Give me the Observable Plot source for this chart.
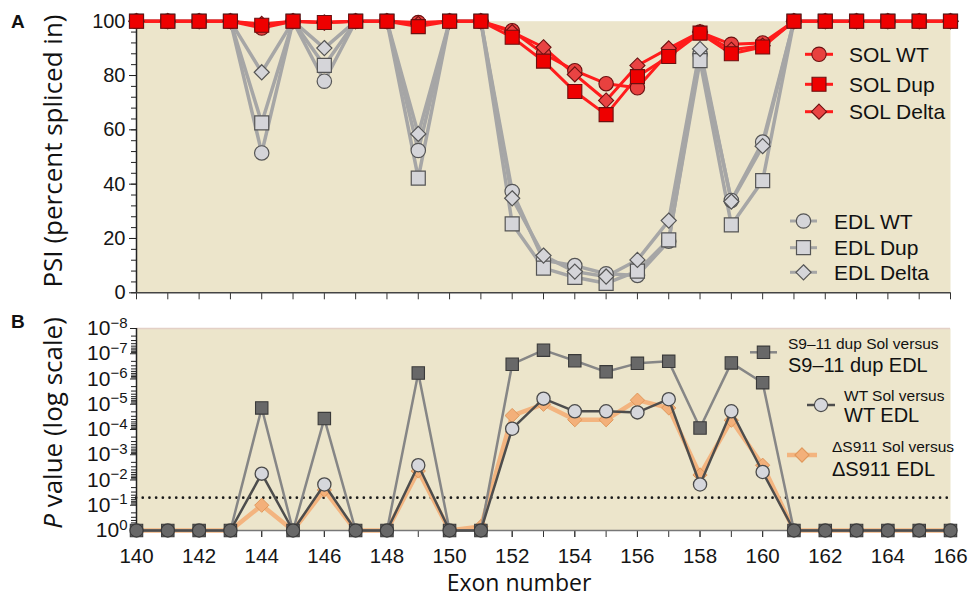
<!DOCTYPE html>
<html><head><meta charset="utf-8">
<script src="https://cdn.jsdelivr.net/npm/d3@7"></script>
<script src="https://cdn.jsdelivr.net/npm/@observablehq/plot@0.6"></script>
<style>
html,body{margin:0;padding:0;background:#fff;}
#wrap{position:relative;width:971px;height:598px;overflow:hidden;background:#fff;}
#wrap svg{position:absolute;left:0;}
</style></head><body><div id="wrap"></div>
<script>
// ---------- data ----------
const exons = [140,141,142,143,144,145,146,147,148,149,150,151,152,153,154,155,156,157,158,159,160,161,162,163,164,165,166];
// Panel A: PSI (percent spliced in)
const solWT    = [100,100,100,100, 97.5,100, 99.5,100,100, 99.5,100,100, 96.5,88,81.8,77,75.5,88.5,96,91.5,92, 100,100,100,100,100,100];
const solDup   = [100,100,100,100, 98.5,100, 99.5,100,100, 98,100,100, 94.1,85.3,74.1,65.6,79.6,87,95.6,88,90.5, 100,100,100,100,100,100];
const solDelta = [100,100,100,100, 99,100, 99.5,100,100, 99,100,100, 96,90.4,80.4,70.8,83.7,90,96,89.5,91, 100,100,100,100,100,100];
const edlWT    = [100,100,100,100, 51.5,100, 77.9,100,100, 52.4,100,100, 37.3,12,10,7,6.4,19,88,34,55.5, 100,100,100,100,100,100];
const edlDup   = [100,100,100,100, 62.6,100, 83.7,100,100, 42.2,100,100, 25.4,9.1,5.7,3.5,8,19.5,85.5,25,41.3, 100,100,100,100,100,100];
const edlDelta = [100,100,100,100, 81.2,100, 90.1,100,100, 58.5,100,100, 34.8,13.7,7.8,6,12.1,26.6,89.8,33.6,54, 100,100,100,100,100,100];
// Panel B: P values
const pDup   = [1,1,1,1, 1.4e-5,1, 3.7e-5,1,1, 5.8e-7,1,1, 2.6e-7,7.2e-8,1.9e-7,5.2e-7,2.4e-7,2.0e-7,8.7e-5,2.3e-7,1.4e-6, 1,1,1,1,1,1];
const pWT    = [1,1,1,1, 5.6e-3,1, 1.5e-2,1,1, 2.6e-3,1,1, 9.3e-5,6.0e-6,1.9e-5,1.9e-5,2.1e-5,6.3e-6,1.5e-2,1.9e-5,4.8e-3, 1,1,1,1,1,1];
const pDelta = [1,1,1,1, 0.1,1, 2.5e-2,1,1, 4.4e-3,1,0.7, 2.8e-5,1.0e-5,4.1e-5,4.1e-5,6.9e-6,1.4e-5,6.3e-3,4.3e-5,2.6e-3, 1,1,1,1,1,1];
const pThreshold = [0.05];
// ticks / labels
const psiTicks = [0,20,40,60,80,100];
const psiMinorTicks = [0,4,8,12,16,20,24,28,32,36,40,44,48,52,56,60,64,68,72,76,80,84,88,92,96,100];
const exonLabelTicks = [140,142,144,146,148,150,152,154,156,158,160,162,164,166];
const pTicks = [1,1e-1,1e-2,1e-3,1e-4,1e-5,1e-6,1e-7,1e-8];
const pTickExp = ["0","\u22121","\u22122","\u22123","\u22124","\u22125","\u22126","\u22127","\u22128"];
const pMinorTicks = [];
for (let d = 0; d < 8; d++) for (let k = 2; k <= 9; k++) pMinorTicks.push(k * Math.pow(10, -(d + 1)));
const legendSOL = ["SOL WT","SOL Dup","SOL Delta"];
const legendEDL = ["EDL WT","EDL Dup","EDL Delta"];
const legendBSmall = ["S9\u201311 dup Sol versus","WT Sol versus","\u0394S911 Sol versus"];
const legendBBig = ["S9\u201311 dup EDL","WT EDL","\u0394S911 EDL"];

// ---------- styles ----------
const TAN = "#ece5cb";
const TICKFONT = "Liberation Sans, Arial, sans-serif";
const TITLEFONT = "Open Sans, Noto Sans, sans-serif";
const SOL = {line:"#ff1c1c", stroke:"#6b1010", fills:["#e8413f","#ee0000","#e94343"]};
const EDL = {line:"#a6a6a6", fill:"#d5d5d9", stroke:"#555"};
const B = {dupLine:"#868686", dupFill:"#686868", dupStroke:"#3a3a3a",
           wtLine:"#4d4d4d", wtFill:"#d6d7dc", wtStroke:"#4a4a4a",
           dlLine:"#f3b47f", dlFill:"#f3b07a", dlStroke:"#e0975a"};
const symA = [{s:"circle", r:7.2},{s:"square", r:7.9},{s:"diamond2", r:6.8}];

const rows = vals => exons.map((e, i) => ({exon: e, v: vals[i]}));
const wrap = document.getElementById("wrap");

// ---------- Panel A ----------
const edlSets = [edlWT, edlDup, edlDelta];
const solSets = [solWT, solDelta, solDup];
const solSyms = [symA[0], symA[2], symA[1]];
const solFills = [SOL.fills[0], SOL.fills[2], SOL.fills[1]];

const plotA = Plot.plot({
  width: 971, height: 300,
  marginTop: 20.7, marginBottom: 7.7, marginLeft: 136, marginRight: 21,
  x: {domain: [140, 166], label: null},
  y: {domain: [0, 100], label: null},
  style: {background: "transparent", overflow: "visible"},
  marks: [
    Plot.frame({fill: TAN, stroke: "none"}),
    Plot.axisY({ticks: psiMinorTicks, tickSize: 5, fill: "none", stroke: "#222", label: null}),
    Plot.axisY({ticks: psiTicks, tickSize: 7, tickPadding: 4, fontSize: 20, fontFamily: TICKFONT, fill: "#151515", stroke: "#222", label: null}),
    Plot.axisX({ticks: exons, tickSize: 7, fill: "none", stroke: "#333", label: null}),
    Plot.ruleX([140], {stroke: "#222", strokeWidth: 1.5}),
    Plot.ruleY([0], {stroke: "#444", strokeWidth: 1.5}),
    ...edlSets.map(s => Plot.line(rows(s), {x: "exon", y: "v", stroke: EDL.line, strokeWidth: 3.5})),
    ...edlSets.map((s, i) => Plot.dot(rows(s), {x: "exon", y: "v", symbol: symA[i].s, r: symA[i].r, fill: EDL.fill, stroke: EDL.stroke, strokeWidth: 1.2})),
    ...solSets.map(s => Plot.line(rows(s), {x: "exon", y: "v", stroke: SOL.line, strokeWidth: 3})),
    ...solSets.map((s, i) => Plot.dot(rows(s), {x: "exon", y: "v", symbol: solSyms[i].s, r: solSyms[i].r, fill: solFills[i], stroke: SOL.stroke, strokeWidth: 1.1}))
  ]
});
plotA.style.top = "0px";
wrap.appendChild(plotA);

// ---------- Panel B ----------
const plotB = Plot.plot({
  width: 971, height: 293,
  marginTop: 23, marginBottom: 68, marginLeft: 136, marginRight: 21,
  x: {domain: [140, 166], label: null},
  y: {type: "log", domain: [1, 1e-8], label: null},
  style: {background: "transparent", overflow: "visible"},
  marks: [
    Plot.frame({fill: TAN, stroke: "none"}),
    Plot.ruleY([1e-8], {stroke: "#e3d0c6", strokeWidth: 1.5}),
    Plot.axisY({ticks: pMinorTicks, tickSize: 5, fill: "none", stroke: "#222", label: null}),
    Plot.axisY({ticks: pTicks, tickSize: 6, tickPadding: 3, fontSize: 21, fontFamily: TICKFONT, fill: "#151515", stroke: "#222", label: null,
      tickFormat: d => pTickExp[pTicks.indexOf(d)]}),
    Plot.axisX({ticks: exons, tickSize: 7, fill: "none", stroke: "#333", label: null}),
    Plot.axisX({ticks: exonLabelTicks, tickSize: 7, tickPadding: 10.5, fontSize: 20.5, fontFamily: TICKFONT, fill: "#151515", stroke: "#333", label: null}),
    Plot.ruleY(pThreshold, {stroke: "#1a1a1a", strokeWidth: 2.6, strokeDasharray: "0.1,6.6", strokeLinecap: "round"}),
    Plot.ruleX([140], {stroke: "#222", strokeWidth: 1.5}),
    Plot.ruleY([1], {stroke: "#777", strokeWidth: 1.5}),
    Plot.line(rows(pDelta), {x: "exon", y: "v", stroke: B.dlLine, strokeWidth: 4.5}),
    Plot.dot(rows(pDelta), {filter: d => d.v < 1, x: "exon", y: "v", symbol: "diamond2", r: 6.4, fill: B.dlFill, stroke: B.dlStroke, strokeWidth: 1}),
    Plot.line(rows(pDup), {x: "exon", y: "v", stroke: B.dupLine, strokeWidth: 2.5}),
    Plot.line(rows(pWT), {x: "exon", y: "v", stroke: B.wtLine, strokeWidth: 2.5}),
    Plot.dot(rows(pDup), {x: "exon", y: "v", symbol: "square", r: 7, fill: B.dupFill, stroke: B.dupStroke, strokeWidth: 1.1}),
    Plot.dot(rows(pWT), {filter: d => d.v < 1, x: "exon", y: "v", symbol: "circle", r: 6.6, fill: B.wtFill, stroke: B.wtStroke, strokeWidth: 1.3}),
    Plot.dot(rows(pWT), {filter: d => d.v === 1, x: "exon", y: "v", symbol: "circle", r: 6.6, fill: B.dupFill, stroke: B.dupStroke, strokeWidth: 1.1})
  ]
});
plotB.style.top = "305px";
wrap.appendChild(plotB);

// superscript tick labels 10^n
d3.select(plotB).selectAll('g[aria-label="y-axis tick label"] text').each(function() {
  const exp = this.textContent;
  if (!exp) return;
  const t = d3.select(this);
  t.text(null);
  t.append("tspan").text("10");
  t.append("tspan").attr("dy", "-0.5em").attr("font-size", "15px").text(exp);
});

// ---------- overlay: titles, panel letters, legends ----------
const ov = d3.select(wrap).append("svg")
  .attr("width", 971).attr("height", 598)
  .style("top", "0px").style("pointer-events", "none");

ov.append("text").attr("x", 11).attr("y", 28).attr("font-family", TICKFONT).attr("font-weight", "bold").attr("font-size", 19).attr("fill", "#111").text("A");
ov.append("text").attr("x", 11).attr("y", 328).attr("font-family", TICKFONT).attr("font-weight", "bold").attr("font-size", 19).attr("fill", "#111").text("B");

ov.append("text").attr("transform", "translate(53,151) rotate(-90)").attr("dy", "0.35em")
  .attr("text-anchor", "middle").attr("font-family", TITLEFONT).attr("font-size", 26).attr("fill", "#111")
  .text("PSI (percent spliced in)");
const pt = ov.append("text").attr("transform", "translate(53,423) rotate(-90)").attr("dy", "0.35em")
  .attr("text-anchor", "middle").attr("font-family", TITLEFONT).attr("font-size", 26).attr("fill", "#111");
pt.append("tspan").attr("font-style", "italic").text("P");
pt.append("tspan").text(" value (log scale)");
ov.append("text").attr("x", 519).attr("y", 591.2).attr("text-anchor", "middle")
  .attr("font-family", TITLEFONT).attr("font-size", 23).attr("fill", "#111").text("Exon number");

const symMap = {circle: d3.symbolCircle, square: d3.symbolSquare, diamond2: d3.symbolDiamond2};
function swatch(g, x1, x2, y, line, lw, sym, r, fill, stroke, sw) {
  g.append("line").attr("x1", x1).attr("x2", x2).attr("y1", y).attr("y2", y).attr("stroke", line).attr("stroke-width", lw);
  g.append("path").attr("d", d3.symbol(symMap[sym], Math.PI * r * r)()).attr("transform", `translate(${(x1 + x2) / 2},${y})`)
    .attr("fill", fill).attr("stroke", stroke).attr("stroke-width", sw);
}
// Legend A (SOL)
const solY = [54.3, 84.3, 111.7];
legendSOL.forEach((lab, i) => {
  swatch(ov, 805, 833, solY[i], SOL.line, 3, symA[i].s, symA[i].r, SOL.fills[i], SOL.stroke, 1.1);
  ov.append("text").attr("x", 849).attr("y", solY[i]).attr("dy", "0.36em").attr("font-family", TICKFONT).attr("font-size", 21).attr("fill", "#111").text(lab);
});
// Legend A (EDL)
const edlY = [221, 247.7, 272.3];
legendEDL.forEach((lab, i) => {
  swatch(ov, 790, 817, edlY[i], EDL.line, 3, symA[i].s, symA[i].r, EDL.fill, EDL.stroke, 1.2);
  ov.append("text").attr("x", 834).attr("y", edlY[i]).attr("dy", "0.36em").attr("font-family", TICKFONT).attr("font-size", 21).attr("fill", "#111").text(lab);
});
// Legend B
const lb = [
  {sym: "square", r: 7, y: 352.3, x1: 750, x2: 777, line: B.dupLine, lw: 2.5, fill: B.dupFill, stroke: B.dupStroke, tx: 788, sy: 343.3, by: 365},
  {sym: "circle", r: 6.6, y: 405, x1: 807, x2: 835, line: B.wtLine, lw: 2.5, fill: B.wtFill, stroke: B.wtStroke, tx: 844, sy: 395.7, by: 415},
  {sym: "diamond2", r: 6.4, y: 455, x1: 787, x2: 817, line: B.dlLine, lw: 4.5, fill: B.dlFill, stroke: B.dlStroke, tx: 832, sy: 446.7, by: 469}
];
lb.forEach((o, i) => {
  swatch(ov, o.x1, o.x2, o.y, o.line, o.lw, o.sym, o.r, o.fill, o.stroke, 1.1);
  ov.append("text").attr("x", o.tx).attr("y", o.sy).attr("dy", "0.36em").attr("font-family", TICKFONT).attr("font-size", 15.5).attr("fill", "#111").text(legendBSmall[i]);
  ov.append("text").attr("x", o.tx).attr("y", o.by).attr("dy", "0.36em").attr("font-family", TICKFONT).attr("font-size", 20).attr("fill", "#111").text(legendBBig[i]);
});
</script>
</body></html>
